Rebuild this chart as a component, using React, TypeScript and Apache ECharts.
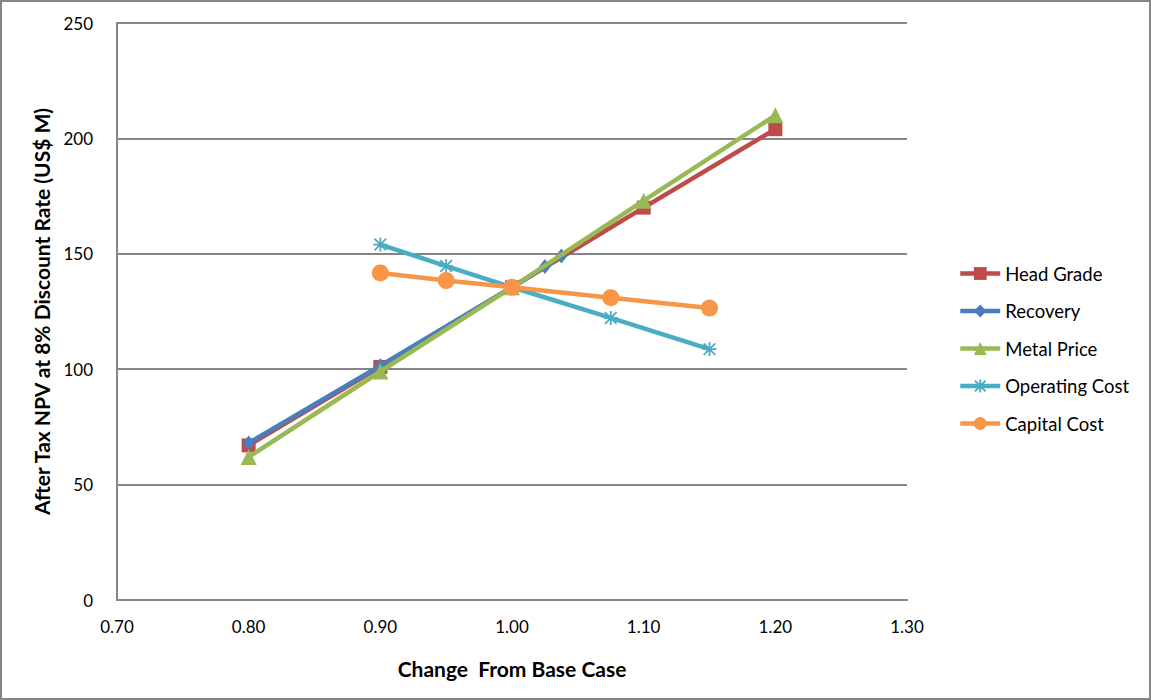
import React, { useEffect, useRef } from "react";
import * as echarts from "echarts";

const headGradeX = [0.8, 0.9, 1.0, 1.1, 1.2];
const headGradeY = [67, 101, 135.5, 170, 204];
const recoveryX = [0.8, 0.9, 1.0, 1.025, 1.0375];
const recoveryY = [68, 101.5, 135.5, 144.5, 149];
const metalPriceX = [0.8, 0.9, 1.0, 1.1, 1.2];
const metalPriceY = [62, 99, 135.5, 173, 210];
const opCostX = [0.9, 0.95, 1.0, 1.075, 1.15];
const opCostY = [154, 144.7, 135.5, 122.2, 108.7];
const capCostX = [0.9, 0.95, 1.0, 1.075, 1.15];
const capCostY = [141.7, 138.4, 135.5, 131, 126.5];

const seriesNames = ["Head Grade", "Recovery", "Metal Price", "Operating Cost", "Capital Cost"];
const colors = ["#BE4B48", "#4A7EBB", "#98B954", "#4BACC6", "#F79646"];

const FONT = "Lato";

const zip = (xs: number[], ys: number[]) => xs.map((x, i) => [x, ys[i]]);

export default function App() {
  const ref = useRef<HTMLDivElement>(null);
  useEffect(() => {
    document.body.style.margin = "0";
    if (!ref.current) return;
    const chart = echarts.init(ref.current, undefined, { renderer: "svg" });
    const datasets = [
      zip(headGradeX, headGradeY),
      zip(recoveryX, recoveryY),
      zip(metalPriceX, metalPriceY),
      zip(opCostX, opCostY),
      zip(capCostX, capCostY),
    ];
    const symbols = [
      "rect",
      "diamond",
      "triangle",
      "path://M0,-6L0,6M-5,-5L5,5M-5,5L5,-5M-6,0L6,0",
      "circle",
    ];
    const sizes: any[] = [14, [12, 15], 16, 14, 17];
    chart.setOption({
      animation: false,
      backgroundColor: "#ffffff",
      color: colors,
      textStyle: { fontFamily: FONT },
      grid: { left: 117, right: 244, top: 23, bottom: 100, containLabel: false },
      legend: {
        orient: "vertical",
        left: 958,
        top: 264,
        padding: 0,
        itemWidth: 40,
        itemHeight: 16,
        itemGap: 18.5,
        lineStyle: { width: 4.5 },
        textStyle: { fontSize: 18.5, color: "#000", fontFamily: FONT },
        data: seriesNames,
      },
      xAxis: {
        type: "value",
        min: 0.7,
        max: 1.3,
        interval: 0.1,
        name: "Change  From Base Case",
        nameLocation: "middle",
        nameGap: 58,
        nameTextStyle: { fontSize: 21, fontWeight: "bold", color: "#000", fontFamily: FONT },
        axisLine: { lineStyle: { color: "#868686", width: 2 } },
        axisTick: { show: false },
        splitLine: { show: false },
        axisLabel: {
          fontSize: 17,
          color: "#000",
          margin: 18,
          formatter: (v: number) => v.toFixed(2),
        },
      },
      yAxis: {
        type: "value",
        min: 0,
        max: 250,
        interval: 50,
        name: "After Tax NPV at 8% Discount Rate (US$ M)",
        nameLocation: "middle",
        nameGap: 65,
        nameTextStyle: { fontSize: 21, fontWeight: "bold", color: "#000", fontFamily: FONT },
        axisLine: { show: true, lineStyle: { color: "#868686", width: 2 } },
        axisTick: { show: false },
        splitLine: { lineStyle: { color: "#868686", width: 2 } },
        axisLabel: { fontSize: 17, color: "#000", margin: 24 },
      },
      graphic: [
        {
          type: "rect",
          shape: { x: 1, y: 1, width: 1149, height: 698 },
          style: { fill: "none", stroke: "#868686", lineWidth: 2 },
          silent: true,
        },
      ],
      series: datasets.map((d, i) => ({
        name: seriesNames[i],
        type: "line",
        data: d,
        symbol: symbols[i],
        symbolSize: sizes[i],
        showAllSymbol: true,
        lineStyle: { width: 4.5, color: colors[i] },
        itemStyle:
          i === 3
            ? { color: colors[i], borderColor: colors[i], borderWidth: 1.8 }
            : { color: colors[i], borderWidth: 0 },
        z: 2 + i,
      })),
    });
    return () => chart.dispose();
  }, []);
  return (
    <div
      ref={ref}
      style={{ position: "absolute", left: 0, top: 0, width: 1151, height: 700 }}
    />
  );
}
